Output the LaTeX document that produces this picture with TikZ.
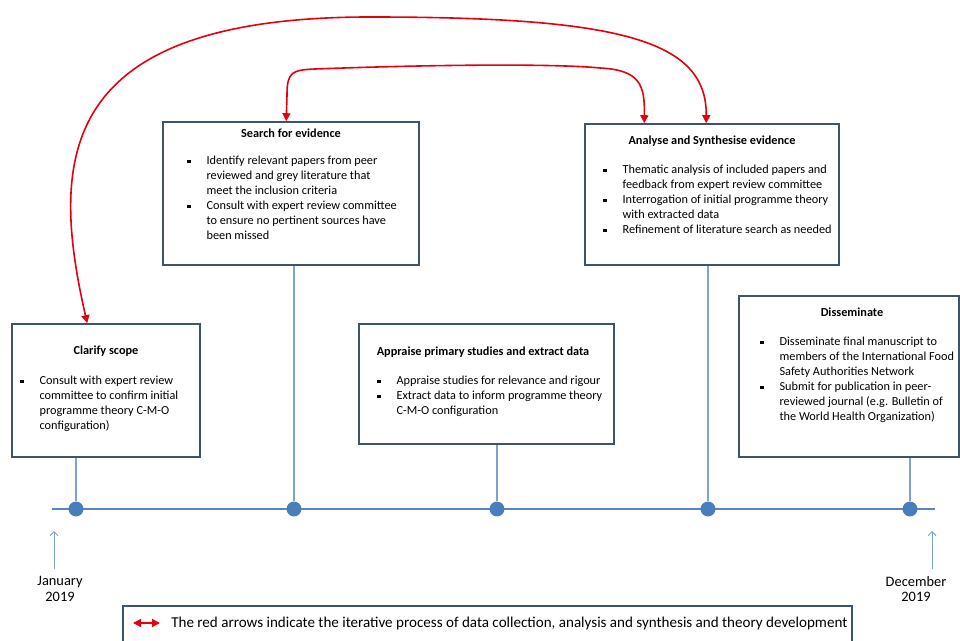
\documentclass[tikz,border=0pt]{standalone}
\usepackage{fontspec}
\setmainfont{Carlito}
\usetikzlibrary{arrows.meta,fit}

\definecolor{boxline}{HTML}{3F5468}
\definecolor{timeblue}{HTML}{5A86C0}
\definecolor{dotblue}{HTML}{4A7EBB}
\definecolor{linkblue}{HTML}{7FA2C9}
\definecolor{loopred}{HTML}{E3000F}
\newcommand{\sq}{\makebox[14.5pt][l]{\rule[1.2pt]{2.9pt}{2.9pt}}}

\begin{document}
\begin{tikzpicture}[x=0.75pt, y=-0.75pt]
	\tikzstyle{phase} = [draw=boxline, line width=1.2pt, inner sep=0pt]
	\tikzstyle{heading} = [anchor=base, inner sep=0pt, font=\fontsize{9.2}{11.25}\selectfont\bfseries]
	\tikzstyle{items} = [anchor=base west, inner sep=0pt, font=\fontsize{9.2}{11.25}\selectfont]
	\tikzstyle{event} = [circle, fill=dotblue, inner sep=0pt, minimum size=11.2pt]
	\tikzstyle{link} = [draw=linkblue, line width=0.8pt]
	\tikzstyle{datearrow} = [draw=linkblue, line width=0.7pt, -{Straight Barb[length=3pt, width=6pt]}]
	\tikzstyle{datelabel} = [align=center, inner sep=0pt, font=\fontsize{10.8}{11.8}\selectfont]
	\tikzstyle{iterarrow} = [draw=loopred, line width=1.2pt, {Triangle[width=6pt, length=6pt]}-{Triangle[width=6pt, length=6pt]}]
	\useasboundingbox (0,0) rectangle (960,641);
	\clip (0,0) rectangle (960,641);
	% phase boxes
	\node[phase, fit={(12,324) (200,457)}] (clarify) {};
	\node[phase, fit={(163,122) (419,265)}] (search) {};
	\node[phase, fit={(359,324) (614,444)}] (appraise) {};
	\node[phase, fit={(585,124) (839,265)}] (analyse) {};
	\node[phase, fit={(739,296) (959,457)}] (disseminate) {};
	\node[heading] (clarifytitle) at (106,355) {Clarify scope};
	\node[heading] (searchtitle) at (291,138) {Search for evidence};
	\node[heading] (analysetitle) at (712,145) {Analyse and Synthesise evidence};
	\node[heading] (appraisetitle) at (483,356) {Appraise primary studies and extract data};
	\node[heading] (dissemtitle) at (852,317) {Disseminate};
	\node[items] (clarifyitems) at (20,385) {\begin{tabular}[t]{@{}l@{}l@{}}
		\sq & Consult with expert review\\
		& committee to confirm initial\\
		& programme theory C-M-O\\
		& configuration)
	\end{tabular}};
	\node[items] (searchitems) at (187,165) {\begin{tabular}[t]{@{}l@{}l@{}}
		\sq & Identify relevant papers from peer\\
		& reviewed and grey literature that\\
		& meet the inclusion criteria\\
		\sq & Consult with expert review committee\\
		& to ensure no pertinent sources have\\
		& been missed
	\end{tabular}};
	\node[items] (analyseitems) at (603,174) {\begin{tabular}[t]{@{}l@{}l@{}}
		\sq & Thematic analysis of included papers and\\
		& feedback from expert review committee\\
		\sq & Interrogation of initial programme theory\\
		& with extracted data\\
		\sq & Refinement of literature search as needed
	\end{tabular}};
	\node[items] (appraiseitems) at (377,385) {\begin{tabular}[t]{@{}l@{}l@{}}
		\sq & Appraise studies for relevance and rigour\\
		\sq & Extract data to inform programme theory\\
		& C-M-O configuration
	\end{tabular}};
	\node[items] (dissemitems) at (760,346) {\begin{tabular}[t]{@{}l@{}l@{}}
		\sq & Disseminate final manuscript to\\
		& members of the International Food\\
		& Safety Authorities Network\\
		\sq & Submit for publication in peer-\\
		& reviewed journal (e.g. Bulletin of\\
		& the World Health Organization)
	\end{tabular}};
	% time line
	\coordinate (start) at (52,509);
	\coordinate (finish) at (935,509);
	\draw[timeblue, line width=0.8pt] (start) -- (finish);
	\node[event] (e1) at (76,509) {};
	\node[event] (e2) at (294,509) {};
	\node[event] (e3) at (497,509) {};
	\node[event] (e4) at (708,509) {};
	\node[event] (e5) at (910,509) {};
	\draw[link] (e1) -- (e1 |- clarify.south);
	\draw[link] (e2) -- (e2 |- search.south);
	\draw[link] (e3) -- (e3 |- appraise.south);
	\draw[link] (e4) -- (e4 |- analyse.south);
	\draw[link] (e5) -- (e5 |- disseminate.south);
	% start and end
	\node[datelabel] (jan) at (60,589) {January\\2019};
	\node[datelabel] (dec) at (916,589) {December\\2019};
	\coordinate (janfoot) at (54,569);
	\coordinate (jantip) at (54,531);
	\coordinate (decfoot) at (932,569);
	\coordinate (dectip) at (932,531);
	\draw[datearrow] (janfoot) -- (jantip);
	\draw[datearrow] (decfoot) -- (dectip);
	% iteration arrows
	\draw[iterarrow] ([xshift=57pt]clarify.north west) .. controls (50,160) and (55,17) .. (370,17)
		.. controls (620,17) and (707,40) .. ([xshift=91.5pt]analyse.north west);
	\draw[iterarrow] ([xshift=93pt]search.north west) -- (287,95) .. controls (287,72) and (292,70) .. (315,69)
		.. controls (450,64) and (560,64) .. (600,68) .. controls (640,70) and (645,85) .. ([xshift=45pt]analyse.north west);
	% key
	\node[phase, fit={(123,606) (852,660)}] (key) {};
	\coordinate (keyleft) at (133,623);
	\coordinate (keyright) at (160,623);
	\draw[iterarrow, line width=1pt] (keyleft) -- (keyright);
	\node[anchor=west, inner sep=0pt, font=\fontsize{11.3}{12}\selectfont] (keytext) at (171,623) {The red arrows indicate the iterative process of data collection, analysis and synthesis and theory development};
\end{tikzpicture}
\end{document}
